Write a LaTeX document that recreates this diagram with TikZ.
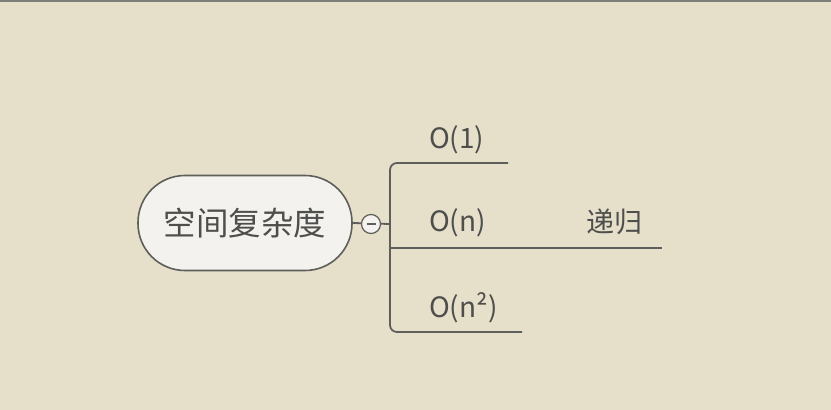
\documentclass[tikz,border=0pt]{standalone}
\usepackage{fontspec}
\setmainfont{Noto Sans CJK SC}
\usepackage{tikz}
\usetikzlibrary{positioning}

\definecolor{paper}{HTML}{E6DFCA}
\definecolor{ink}{HTML}{4E4E4C}
\definecolor{edge}{HTML}{5E5E5A}
\definecolor{rootfill}{HTML}{F3F2EE}

\tikzset{
  rootbox/.style={draw=edge, line width=1.6pt, fill=rootfill, text=ink,
    minimum width=214pt, minimum height=95pt, rounded corners=47pt,
    inner sep=0pt, font=\fontsize{32.5}{38}\selectfont},
  foldmark/.style={circle, draw=edge, line width=1.2pt, fill=rootfill,
    minimum size=19pt, inner sep=0pt},
  topic/.style={text=ink, inner sep=0pt, anchor=west,
    font=\fontsize{28}{33}\selectfont},
  branch/.style={draw=edge, line width=1.8pt}
}

\begin{document}
\begin{tikzpicture}[x=1pt, y=-1pt]
        % background and top rule
        \fill[paper] (0,0) rectangle (831,410);
        \useasboundingbox (0,0) rectangle (831,410);
        \fill[edge!80] (0,0) rectangle (831,2);
        % root and fold button
        \node[rootbox] (root) at (245,223) {空间复杂度};
        \coordinate (hub) at (390,224);
        \draw[branch] (root.east) -- (hub);
        \node[foldmark] (fold) at (371,224) {};
        \draw[edge, line width=1.3pt] (fold.center) ++(-4.5,0) -- ++(9,0);
        % branch ends
        \coordinate (u1) at (508,163);
        \coordinate (u2) at (522,248);
        \coordinate (u3) at (522,332);
        \coordinate (u4) at (662,248);
        \draw[branch, rounded corners=7pt] (u1) -- (390,163) -- (390,332) -- (u3);
        \draw[branch] (390,248) -- (u2);
        \draw[branch] (u2) -- (u4);
        % labels
        \node[topic] (o1) at (429,140) {O(1)};
        \node[topic] (on) at (429,223) {O(n)};
        \node[topic] (on2) at (429,308) {O(n²)};
        \node[topic] (rec) at (586,222) {递归};
    \end{tikzpicture}
\end{document}
